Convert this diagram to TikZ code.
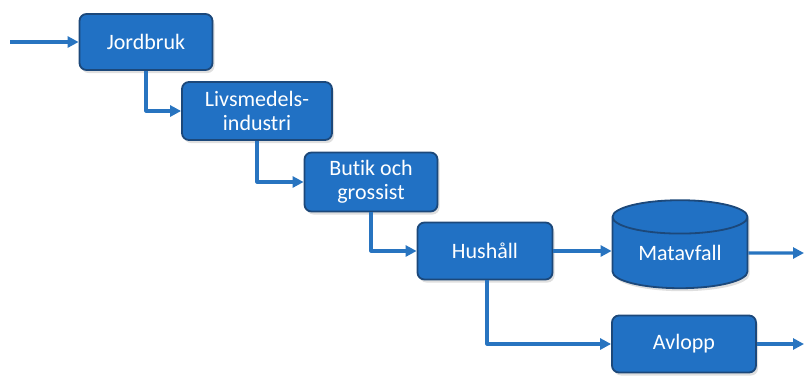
\documentclass[tikz,border=0pt]{standalone}
\usepackage{fontspec}
\setmainfont{Carlito}[Ligatures=NoCommon]
\usetikzlibrary{arrows.meta,shapes.geometric,shadows}

\definecolor{boxblue}{RGB}{33,113,196}
\definecolor{edgeblue}{RGB}{28,72,122}
\definecolor{flowblue}{RGB}{40,116,192}

\begin{document}
\begin{tikzpicture}[x=1pt,y=-1pt,line join=round,
    stage/.style={draw=edgeblue,line width=1.8pt,fill=boxblue,rounded corners=7pt,
      text=white,align=center,font=\fontsize{22}{24}\selectfont,
      inner sep=0pt,drop shadow={opacity=0.25,shadow xshift=2pt,shadow yshift=-3pt}},
    store/.style={stage,rounded corners=0pt,cylinder,shape border rotate=90,aspect=0.4},
    flow/.style={draw=flowblue,line width=3.2pt,-{Triangle[length=11pt,width=11pt]}}]
  % page size of the reference
  \useasboundingbox (0,0) rectangle (804,376);

  % the chain of stages, stepping down to the right
  \node[stage,minimum width=133pt,minimum height=56pt] (jord) at (146,42) {Jordbruk};
  \node[stage,minimum width=150pt,minimum height=58pt] (livs) at (257,111) {Livsmedels-\\industri};
  \node[stage,minimum width=133pt,minimum height=59pt] (butik) at (371,182) {Butik och\\grossist};
  \node[stage,minimum width=135pt,minimum height=57pt] (hus) at (485,251) {Hushåll};

  % where the waste goes
  \node[store,minimum width=135pt,minimum height=88pt] (mat) at (680,253) {Matavfall};
  \node[stage,minimum width=144pt,minimum height=57pt] (avlopp) at (684,344) {Avlopp};

  % free ends at the page edges
  \coordinate (in) at (10,42);
  \coordinate (matut) at (804,253);
  \coordinate (avut) at (804,344);

  % connectors
  \draw[flow] (in) -- (jord);
  \draw[flow] (jord.south) |- (livs.west);
  \draw[flow] (livs.south) |- (butik.west);
  \draw[flow] (butik.south) |- (hus.west);
  \draw[flow] (hus.east) -- (hus.east -| mat.west);
  \draw[flow] ([xshift=2pt]hus.south) |- (avlopp.west);
  \draw[flow] (mat.east) -- (matut);
  \draw[flow] (avlopp.east) -- (avut);

\end{tikzpicture}
\end{document}
